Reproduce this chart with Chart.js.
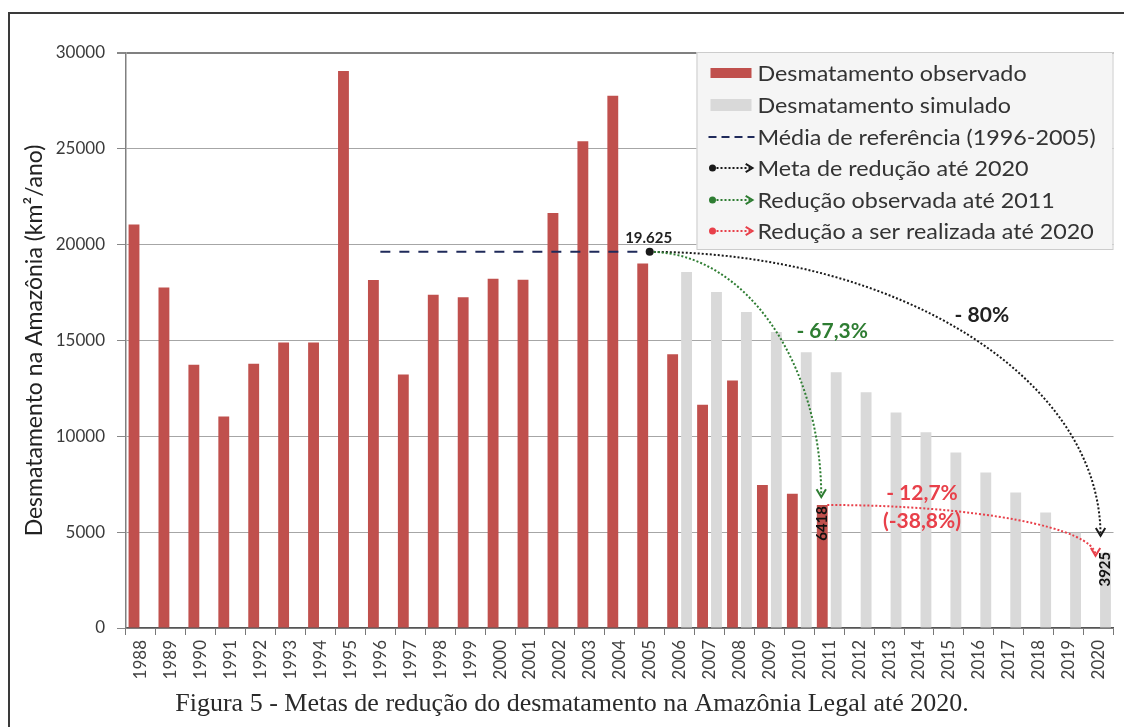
<!DOCTYPE html>
<html><head><meta charset="utf-8">
<script src="https://cdn.jsdelivr.net/npm/chart.js@4.4.1/dist/chart.umd.min.js"></script>
<style>html,body{margin:0;padding:0;background:#fff;}canvas{display:block}</style>
</head><body>
<canvas id="c" width="1124" height="727"></canvas>
<script>
// ---------- DATA ----------
const years = ['1988','1989','1990','1991','1992','1993','1994','1995','1996','1997','1998','1999','2000','2001','2002','2003','2004','2005','2006','2007','2008','2009','2010','2011','2012','2013','2014','2015','2016','2017','2018','2019','2020'];
const observed = [21050,17770,13730,11030,13786,14896,14896,29059,18161,13227,17383,17259,18226,18165,21651,25396,27772,19014,14286,11651,12911,7464,7000,6418,null,null,null,null,null,null,null,null,null];
const simulated = [null,null,null,null,null,null,null,null,null,null,null,null,null,null,null,null,null,null,18580,17530,16490,15440,14390,13350,12300,11250,10210,9160,8110,7070,6020,4970,3925];
const referenceMean = [null,null,null,null,null,null,null,null,19625,19625,19625,19625,19625,19625,19625,19625,19625,19625,null,null,null,null,null,null,null,null,null,null,null,null,null,null,null];
const yTicks = [0,5000,10000,15000,20000,25000,30000];
const referenceValue = 19625;   // média 1996-2005
const referenceLabel = '19.625';
const goalValue = 3925;         // meta 2020
const observedLastLabel = '6418';
const goalLabel = '3925';
const pctGoal = '- 80%';
const pctObserved = '- 67,3%';
const pctRemaining = '- 12,7%';
const pctRemaining2 = '(-38,8%)';
const legendLabels = ['Desmatamento observado','Desmatamento simulado','Média de referência (1996-2005)','Meta de redução até 2020','Redução observada até 2011','Redução a ser realizada até 2020'];
const yTitle = 'Desmatamento na Amazônia (km²/ano)';
const caption = 'Figura 5 - Metas de redução do desmatamento na Amazônia Legal até 2020.';

// ---------- STYLE ----------
const RED = '#C0504D', GRAY = '#D9D9D9', NAVY = '#1F2A5A';
const C_BLACK = '#1a1a1a', C_GREEN = '#2E7D32', C_RED = '#E8404A';
const SANS = 'Lato, "Open Sans", sans-serif';

function arrowHead(ctx, x, y, ang, size, color) {
  ctx.save();
  ctx.setLineDash([]);
  ctx.strokeStyle = color; ctx.lineWidth = 2;
  ctx.beginPath();
  ctx.moveTo(x - size*Math.cos(ang - 0.55), y - size*Math.sin(ang - 0.55));
  ctx.lineTo(x, y);
  ctx.lineTo(x - size*Math.cos(ang + 0.55), y - size*Math.sin(ang + 0.55));
  ctx.stroke();
  ctx.restore();
}
function quarterCurve(ctx, x0, y0, x1, y1, color) {
  const k = 0.552;
  const c1x = x0 + k*(x1 - x0), c1y = y0;
  const c2x = x1, c2y = y1 - k*(y1 - y0);
  ctx.save();
  ctx.strokeStyle = color; ctx.lineWidth = 2; ctx.setLineDash([2,2]);
  ctx.beginPath(); ctx.moveTo(x0, y0); ctx.bezierCurveTo(c1x, c1y, c2x, c2y, x1, y1); ctx.stroke();
  ctx.restore();
  arrowHead(ctx, x1, y1, Math.atan2(y1 - c2y, x1 - c2x), 9, color);
}
function rotText(ctx, txt, x, y, font, color) {
  ctx.save(); ctx.translate(x, y); ctx.rotate(-Math.PI/2);
  ctx.font = font; ctx.fillStyle = color; ctx.textAlign = 'right'; ctx.textBaseline = 'middle';
  ctx.fillText(txt, 0, 0); ctx.restore();
}

const annotations = {
  id: 'annotations',
  beforeDraw(chart) {
    const ctx = chart.ctx;
    ctx.save();
    ctx.strokeStyle = '#3a3a3a'; ctx.lineWidth = 2;
    ctx.beginPath(); ctx.moveTo(9, 727); ctx.lineTo(9, 13); ctx.lineTo(1124, 13); ctx.stroke();
    ctx.restore();
  },
  afterDatasetsDraw(chart) {
    const ctx = chart.ctx, xs = chart.scales.x, ys = chart.scales.y;
    const cw = xs.getPixelForValue(1) - xs.getPixelForValue(0);
    const px = f => xs.getPixelForValue(Math.floor(f)) + (f - Math.floor(f)) * cw;
    const iStart = years.indexOf('2005'), iObs = years.indexOf('2011'), iEnd = years.indexOf('2020');
    const x0 = xs.getPixelForValue(iStart), y0 = ys.getPixelForValue(referenceValue);
    const obsBar = chart.getDatasetMeta(0).data[iObs];
    const simBar = chart.getDatasetMeta(1).data[iEnd];
    const xEnd = xs.getPixelForValue(iEnd), yGoal = ys.getPixelForValue(goalValue);

    // black: meta 2020
    quarterCurve(ctx, x0, y0, xEnd + 2, yGoal - 17, C_BLACK);
    // green: observada até 2011
    quarterCurve(ctx, x0, y0, obsBar.x - 1, obsBar.y - 8, C_GREEN);
    // red: a ser realizada
    quarterCurve(ctx, obsBar.x + 5, obsBar.y, xEnd - 3, yGoal + 3, C_RED);
    // start dot
    ctx.save(); ctx.fillStyle = C_BLACK; ctx.beginPath(); ctx.arc(x0, y0, 4, 0, Math.PI*2); ctx.fill(); ctx.restore();

    ctx.save();
    ctx.textAlign = 'center'; ctx.textBaseline = 'middle';
    ctx.font = 'bold 15px ' + SANS; ctx.fillStyle = '#222';
    ctx.fillText(referenceLabel, x0 - 1, y0 - 14);
    ctx.font = 'bold 21px ' + SANS;
    ctx.fillStyle = '#222'; ctx.fillText(pctGoal, px(iStart + 11.1), ys.getPixelForValue(16300));
    ctx.fillStyle = C_GREEN; ctx.fillText(pctObserved, px(iStart + 6.1), ys.getPixelForValue(15500));
    ctx.fillStyle = C_RED; ctx.fillText(pctRemaining, px(iStart + 9.1), ys.getPixelForValue(7050));
    ctx.fillText(pctRemaining2, px(iStart + 9.1), ys.getPixelForValue(5550));
    ctx.restore();

    rotText(ctx, observedLastLabel, obsBar.x, obsBar.y + 1, 'bold 15px ' + SANS, '#111');
    rotText(ctx, goalLabel, simBar.x, yGoal - 1, 'bold 15px ' + SANS, '#111');
  },
  afterDraw(chart) {
    const ctx = chart.ctx, ca = chart.chartArea;
    // legend box
    const lx0 = ca.right - 417, ly0 = ca.top - 1, lx1 = ca.right - 1, ly1 = ca.top + 196;
    ctx.save();
    ctx.fillStyle = '#F5F5F5'; ctx.strokeStyle = '#CCCCCC'; ctx.lineWidth = 1;
    ctx.fillRect(lx0, ly0, lx1 - lx0, ly1 - ly0); ctx.strokeRect(lx0 + 0.5, ly0 + 0.5, lx1 - lx0, ly1 - ly0);
    const rows = [73, 105, 137, 168, 200, 231].map(v => v - 53 + ca.top);
    const sx = lx0 + 14, tx = lx0 + 61;
    // row symbols
    ctx.fillStyle = RED; ctx.fillRect(sx, rows[0] - 5, 41, 10);
    ctx.fillStyle = GRAY; ctx.fillRect(sx, rows[1] - 6, 41, 12);
    ctx.strokeStyle = NAVY; ctx.lineWidth = 2; ctx.setLineDash([8,5]);
    ctx.beginPath(); ctx.moveTo(sx - 2, rows[2]); ctx.lineTo(sx + 44, rows[2]); ctx.stroke();
    [[3, C_BLACK], [4, C_GREEN], [5, C_RED]].forEach(([r, col]) => {
      const y = rows[r];
      ctx.setLineDash([2,2]); ctx.strokeStyle = col; ctx.lineWidth = 2;
      ctx.beginPath(); ctx.moveTo(sx + 2, y); ctx.lineTo(sx + 40, y); ctx.stroke();
      ctx.setLineDash([]); ctx.fillStyle = col;
      ctx.beginPath(); ctx.arc(sx + 2, y, 3.5, 0, Math.PI*2); ctx.fill();
      arrowHead(ctx, sx + 42, y, 0, 8, col);
    });
    ctx.setLineDash([]);
    ctx.fillStyle = '#333'; ctx.font = '21px ' + SANS; ctx.textAlign = 'left'; ctx.textBaseline = 'middle';
    legendLabels.forEach((t, i) => {
      ctx.save(); ctx.translate(tx, rows[i] + 1); ctx.scale(1.11, 1);
      ctx.fillText(t, 0, 0); ctx.restore();
    });
    // caption
    ctx.font = '26px "Liberation Serif", serif'; ctx.fillStyle = '#2a2a2a'; ctx.textAlign = 'center';
    ctx.fillText(caption, 572, 704);
    ctx.restore();
  }
};

new Chart(document.getElementById('c'), {
  type: 'bar',
  data: {
    labels: years,
    datasets: [
      { label: legendLabels[0], data: observed, backgroundColor: RED, categoryPercentage: 0.93, barPercentage: 0.78, order: 2 },
      { label: legendLabels[1], data: simulated, backgroundColor: GRAY, categoryPercentage: 0.93, barPercentage: 0.78, order: 3 },
      { type: 'line', label: legendLabels[2], data: referenceMean, borderColor: NAVY, borderWidth: 2, borderDash: [10, 9], pointRadius: 0, fill: false, order: 1 }
    ]
  },
  options: {
    responsive: false, animation: false, devicePixelRatio: 1,
    layout: { padding: { left: 10, top: 53, right: 4, bottom: 0 } },
    plugins: { legend: { display: false }, tooltip: { enabled: false } },
    scales: {
      x: {
        afterFit: s => { s.height = 99; },
        grid: { display: true, drawOnChartArea: false, drawTicks: true, tickLength: 7, tickColor: '#777', offset: true },
        border: { color: '#555', width: 1.5 },
        ticks: { minRotation: 90, maxRotation: 90, autoSkip: false, padding: 5, color: '#404040', font: { family: SANS, size: 17 } }
      },
      y: {
        min: 0, max: 30000,
        afterFit: s => { s.width = 116; },
        afterBuildTicks: s => { s.ticks = yTicks.map(v => ({ value: v })); },
        grid: { color: ctx => ctx.tick && ctx.tick.value === 30000 ? '#808080' : '#A6A6A6', lineWidth: ctx => ctx.tick && ctx.tick.value === 30000 ? 2 : 1, tickLength: 9, tickColor: '#888' },
        border: { color: '#808080', width: 1.5 },
        ticks: { padding: 12, color: '#3a3a3a', font: { family: SANS, size: 17 }, callback: v => String(v) },
        title: { display: true, text: yTitle, color: '#222', font: { family: SANS, size: 23 }, padding: { top: 11, bottom: 0 } }
      }
    }
  },
  plugins: [annotations]
});
</script>
</body></html>
